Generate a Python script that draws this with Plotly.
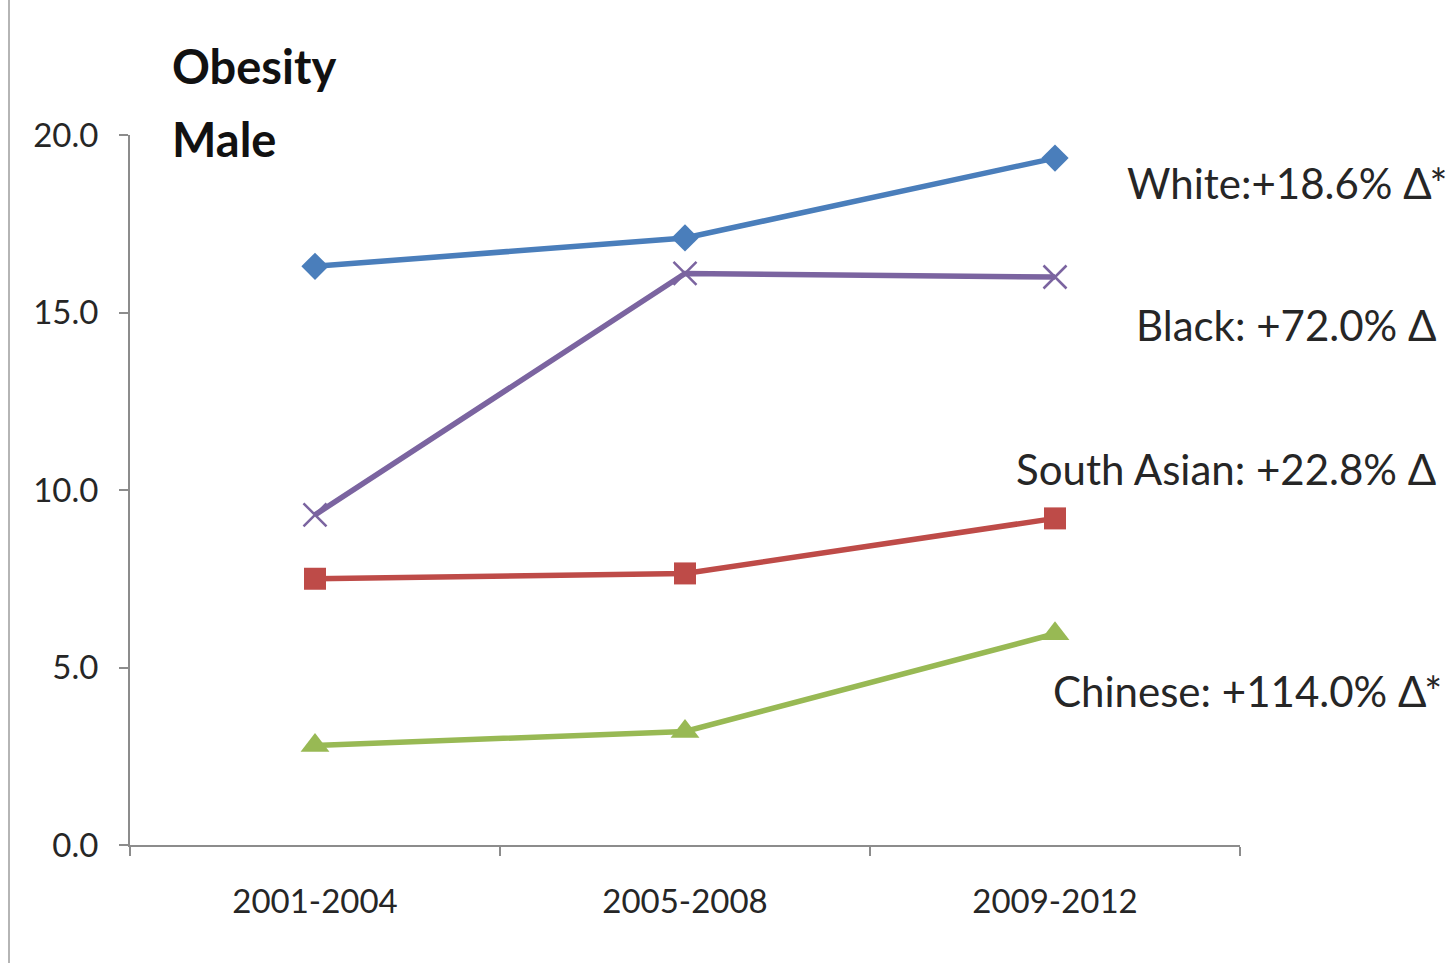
import plotly.graph_objects as go

# Survey periods and male obesity prevalence (%) by ethnic group
periods = ["2001-2004", "2005-2008", "2009-2012"]
white = [16.3, 17.1, 19.35]
black = [9.3, 16.1, 16.0]
south_asian = [7.5, 7.65, 9.2]
chinese = [2.8, 3.2, 5.95]

series_names = ["White", "Black", "South Asian", "Chinese"]
series_labels = ["White:+18.6% Δ*", "Black: +72.0% Δ", "South Asian: +22.8% Δ", "Chinese: +114.0% Δ*"]
label_y = [18.65, 14.65, 10.6, 4.35]
label_x = [1.188, 1.178, 1.178, 1.184]

title_lines = ["Obesity", "Male"]
title_y = [1.097, 0.995]

y_ticks = [0, 5, 10, 15, 20]
y_tick_text = ["0.0", "5.0", "10.0", "15.0", "20.0"]

FONT = "Lato"
TEXT = "#262626"
AXIS = "#8c8c8c"

styles = {
    "White": dict(color="#4a7ebb", symbol="diamond", size=21, lw=0),
    "Black": dict(color="#7b64a0", symbol="x-thin", size=23, lw=2.5),
    "South Asian": dict(color="#be4b48", symbol="square", size=22, lw=0),
    "Chinese": dict(color="#98b954", symbol="triangle-up", size=25, lw=0),
}

fig = go.Figure()
for name, vals in zip(series_names, [white, black, south_asian, chinese]):
    st = styles[name]
    fig.add_trace(go.Scatter(
        x=periods, y=vals, mode="lines+markers", name=name,
        line=dict(color=st["color"], width=5.5),
        marker=dict(symbol=st["symbol"], size=st["size"], color=st["color"],
                    line=dict(color=st["color"], width=st["lw"])),
        showlegend=False,
    ))

for text, xv, yv in zip(series_labels, label_x, label_y):
    fig.add_annotation(
        x=xv, xref="paper", y=yv, yref="y", text=text, showarrow=False,
        xanchor="right", yanchor="middle",
        font=dict(family=FONT, size=42, color=TEXT),
    )

# Two-line chart title in the upper-left of the plot area
for line, yv in zip(title_lines, title_y):
    fig.add_annotation(
        x=0.036, xref="paper", y=yv, yref="paper",
        text=f"<b>{line}</b>", showarrow=False,
        xanchor="left", yanchor="middle", align="left",
        font=dict(family=FONT, size=47, color="#111111"),
    )

# thin frame line along the left edge
fig.add_shape(type="line", xref="paper", yref="paper",
              x0=-0.109, x1=-0.109, y0=-0.17, y1=1.2,
              line=dict(color="#b5b5b5", width=2))

fig.update_layout(
    width=1451, height=963,
    margin=dict(l=130, r=211, t=135, b=118),
    paper_bgcolor="white", plot_bgcolor="white",
    font=dict(family=FONT, color=TEXT),
)
fig.update_xaxes(
    type="category", range=[-0.5, 2.5],
    showline=True, linecolor=AXIS, linewidth=2,
    ticks="outside", tickson="boundaries", ticklen=9, tickcolor=AXIS, tickwidth=2,
    ticklabelstandoff=26,
    showgrid=False, zeroline=False,
    tickfont=dict(family=FONT, size=33, color=TEXT),
)
fig.update_yaxes(
    range=[0, 20], tickvals=y_ticks, ticktext=y_tick_text,
    showline=True, linecolor=AXIS, linewidth=2,
    ticks="outside", ticklen=9, tickcolor=AXIS, tickwidth=2,
    ticklabelstandoff=14,
    showgrid=False, zeroline=False,
    tickfont=dict(family=FONT, size=33, color=TEXT),
)

fig.write_html("out.html")
